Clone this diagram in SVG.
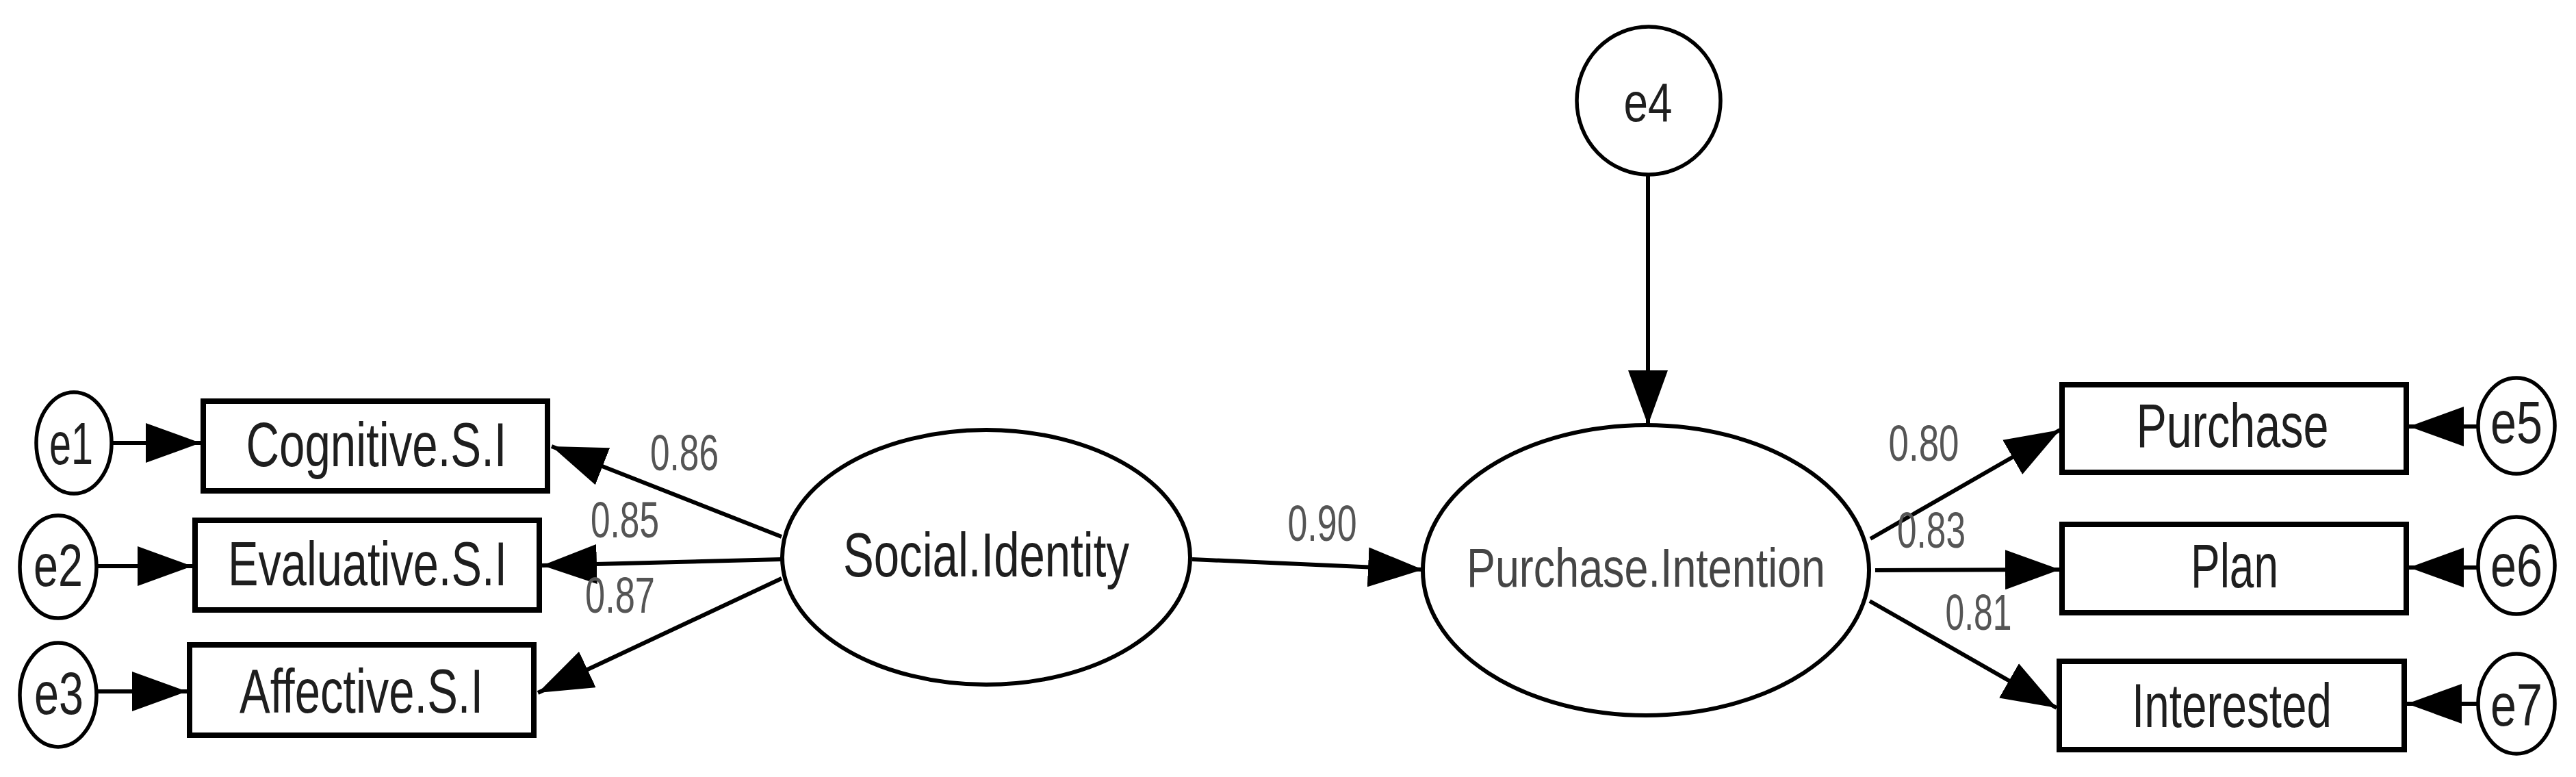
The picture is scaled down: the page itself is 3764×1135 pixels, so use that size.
<svg xmlns="http://www.w3.org/2000/svg" width="3764" height="1135" viewBox="0 0 3764 1135">
<defs>
<style>
.bg{fill:#ffffff}
.ell{fill:#ffffff;stroke:#000;stroke-width:5.5}
.big{fill:#ffffff;stroke:#000;stroke-width:6}
.box{fill:#ffffff;stroke:#000;stroke-width:8}
.lbl{font-family:"Liberation Sans",Arial,sans-serif;fill:#1e1e1e;text-anchor:middle}
.nm{font-size:90px}
.er{font-size:88px}
.pi{font-size:80px;fill:#454545}
.num{font-family:"Liberation Sans",Arial,sans-serif;font-size:74px;fill:#555555;text-anchor:middle}
.con{stroke:#000;stroke-width:6;fill:none;marker-end:url(#ah)}
</style>
<marker id="ah" markerUnits="userSpaceOnUse" viewBox="0 0 80 58" markerWidth="80" markerHeight="58" refX="80" refY="29" orient="auto">
<path d="M0,0 L80,29 L0,58 Z" fill="#000"/>
</marker>
</defs>
<rect class="bg" x="0" y="0" width="3764" height="1135"/>

<g id="connectors">
<line class="con" x1="163" y1="647" x2="293" y2="647"/>
<line class="con" x1="141" y1="827" x2="281" y2="827"/>
<line class="con" x1="141" y1="1010" x2="273" y2="1010"/>
<line class="con" x1="1142" y1="784" x2="806" y2="652"/>
<line class="con" x1="1142" y1="817" x2="792" y2="826"/>
<line class="con" x1="1142" y1="845" x2="786" y2="1012"/>
<line class="con" x1="1742" y1="817" x2="2079" y2="832"/>
<line class="con" x1="2408" y1="257" x2="2408" y2="621"/>
<line class="con" x1="2733" y1="787" x2="3010" y2="628"/>
<line class="con" x1="2740" y1="833" x2="3010" y2="832"/>
<line class="con" x1="2732" y1="878" x2="3005" y2="1034"/>
<line class="con" x1="3620" y1="623" x2="3520" y2="623"/>
<line class="con" x1="3620" y1="829" x2="3520" y2="829"/>
<line class="con" x1="3620" y1="1028" x2="3517" y2="1028"/>
</g>

<g id="labels">
<text class="num" x="1000" y="687" textLength="100" lengthAdjust="spacingAndGlyphs">0.86</text>
<text class="num" x="913" y="785" textLength="100" lengthAdjust="spacingAndGlyphs">0.85</text>
<text class="num" x="906" y="895" textLength="102" lengthAdjust="spacingAndGlyphs">0.87</text>
<text class="num" x="1932" y="790" textLength="101" lengthAdjust="spacingAndGlyphs">0.90</text>
<text class="num" x="2811" y="673" textLength="103" lengthAdjust="spacingAndGlyphs">0.80</text>
<text class="num" x="2822" y="800" textLength="100" lengthAdjust="spacingAndGlyphs">0.83</text>
<text class="num" x="2891" y="920" textLength="97" lengthAdjust="spacingAndGlyphs">0.81</text>
</g>

<g id="e1"><ellipse class="ell" cx="108" cy="647" rx="55" ry="74"/><text class="lbl er" x="104" y="678" textLength="64" lengthAdjust="spacingAndGlyphs">e1</text></g>
<g id="e2"><ellipse class="ell" cx="85" cy="828" rx="56" ry="75"/><text class="lbl er" x="85" y="856" textLength="72" lengthAdjust="spacingAndGlyphs">e2</text></g>
<g id="e3"><ellipse class="ell" cx="85" cy="1015" rx="56" ry="76"/><text class="lbl er" x="86" y="1043" textLength="72" lengthAdjust="spacingAndGlyphs">e3</text></g>

<g id="cognitive"><rect class="box" x="297" y="586" width="503" height="131"/><text class="lbl nm" x="550" y="681" textLength="381" lengthAdjust="spacingAndGlyphs">Cognitive.S.I</text></g>
<g id="evaluative"><rect class="box" x="285" y="760" width="503" height="131"/><text class="lbl nm" x="537" y="855" textLength="408" lengthAdjust="spacingAndGlyphs">Evaluative.S.I</text></g>
<g id="affective"><rect class="box" x="277" y="942" width="503" height="132"/><text class="lbl nm" x="528" y="1041" textLength="356" lengthAdjust="spacingAndGlyphs">Affective.S.I</text></g>

<g id="social-identity"><ellipse class="big" cx="1441" cy="814" rx="298" ry="186"/><text class="lbl nm" x="1441" y="842" textLength="418" lengthAdjust="spacingAndGlyphs">Social.Identity</text></g>

<g id="e4"><ellipse class="ell" cx="2409" cy="147" rx="105" ry="108"/><text class="lbl er" x="2408" y="177" textLength="71" lengthAdjust="spacingAndGlyphs" style="font-size:80px">e4</text></g>

<g id="purchase-intention"><ellipse class="big" cx="2405" cy="833" rx="326" ry="212"/><text class="lbl pi" x="2405" y="857" textLength="524" lengthAdjust="spacingAndGlyphs">Purchase.Intention</text></g>

<g id="purchase"><rect class="box" x="3013" y="562" width="503" height="128"/><text class="lbl nm" x="3262" y="653" textLength="281" lengthAdjust="spacingAndGlyphs">Purchase</text></g>
<g id="plan"><rect class="box" x="3013" y="766" width="503" height="129"/><text class="lbl nm" x="3265" y="858" textLength="128" lengthAdjust="spacingAndGlyphs">Plan</text></g>
<g id="interested"><rect class="box" x="3009" y="966" width="504" height="129"/><text class="lbl nm" x="3261" y="1062" textLength="292" lengthAdjust="spacingAndGlyphs">Interested</text></g>

<g id="e5"><ellipse class="ell" cx="3677" cy="622" rx="56" ry="70"/><text class="lbl er" x="3677" y="647" textLength="76" lengthAdjust="spacingAndGlyphs">e5</text></g>
<g id="e6"><ellipse class="ell" cx="3677" cy="826" rx="56" ry="71"/><text class="lbl er" x="3677" y="856" textLength="76" lengthAdjust="spacingAndGlyphs">e6</text></g>
<g id="e7"><ellipse class="ell" cx="3677" cy="1028" rx="56" ry="73"/><text class="lbl er" x="3677" y="1060" textLength="76" lengthAdjust="spacingAndGlyphs">e7</text></g>
</svg>
